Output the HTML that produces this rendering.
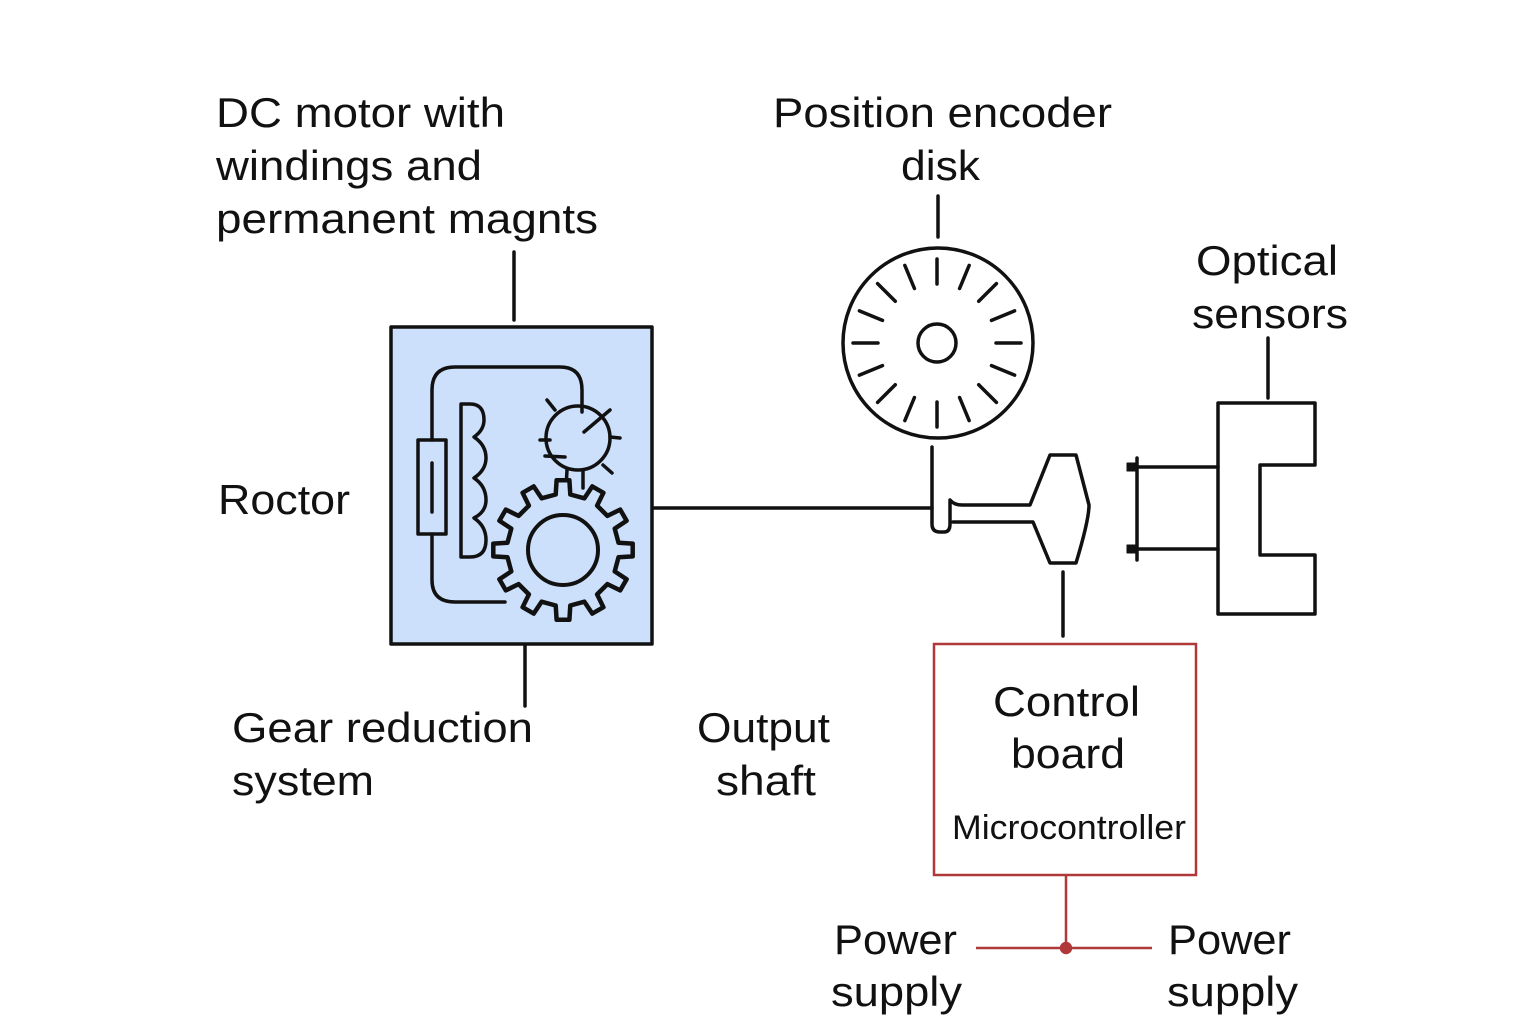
<!DOCTYPE html>
<html><head><meta charset="utf-8"><style>
html,body{margin:0;padding:0;background:#fff;}
svg{display:block}
text{font-family:"Liberation Sans",sans-serif;fill:#111;}
</style></head><body>
<svg id="s" width="1536" height="1024" viewBox="0 0 1536 1024" xmlns="http://www.w3.org/2000/svg">
<g font-size="42" lengthAdjust="spacingAndGlyphs">
<text x="216" y="127" textLength="289" lengthAdjust="spacingAndGlyphs">DC motor with</text>
<text x="216" y="180" textLength="266" lengthAdjust="spacingAndGlyphs">windings and</text>
<text x="216" y="233" textLength="382" lengthAdjust="spacingAndGlyphs">permanent magnts</text>
<text x="773" y="127" textLength="339" lengthAdjust="spacingAndGlyphs">Position encoder</text>
<text x="901" y="180" textLength="79" lengthAdjust="spacingAndGlyphs">disk</text>
<text x="1196" y="275" textLength="142" lengthAdjust="spacingAndGlyphs">Optical</text>
<text x="1192" y="328" textLength="156" lengthAdjust="spacingAndGlyphs">sensors</text>
<text x="218" y="514" textLength="132" lengthAdjust="spacingAndGlyphs">Roctor</text>
<text x="232" y="742" textLength="301" lengthAdjust="spacingAndGlyphs">Gear reduction</text>
<text x="232" y="795" textLength="142" lengthAdjust="spacingAndGlyphs">system</text>
<text x="697" y="742" textLength="133" lengthAdjust="spacingAndGlyphs">Output</text>
<text x="716" y="795" textLength="100" lengthAdjust="spacingAndGlyphs">shaft</text>
<text x="993" y="716" textLength="147" lengthAdjust="spacingAndGlyphs">Control</text>
<text x="1011" y="768" textLength="114" lengthAdjust="spacingAndGlyphs">board</text>
<text x="834" y="954" textLength="123" lengthAdjust="spacingAndGlyphs">Power</text>
<text x="831" y="1006" textLength="131" lengthAdjust="spacingAndGlyphs">supply</text>
<text x="1168" y="954" textLength="123" lengthAdjust="spacingAndGlyphs">Power</text>
<text x="1167" y="1006" textLength="131" lengthAdjust="spacingAndGlyphs">supply</text>
</g>
<text x="952" y="839" font-size="34" textLength="234" lengthAdjust="spacingAndGlyphs">Microcontroller</text>
<g fill="none" stroke="#111" stroke-width="3.5" stroke-linecap="round" stroke-linejoin="round">
<line x1="514" y1="252" x2="514" y2="320"/>
<line x1="938" y1="196" x2="938" y2="237"/>
<line x1="1268" y1="338" x2="1268" y2="398"/>
<line x1="525" y1="646" x2="525" y2="706"/>
<rect x="391" y="327" width="261" height="317" fill="#cde0fb" stroke-width="3.5"/>
<path d="M432,440 V390 Q432,367 455,367 H560 Q582,367 582,390 V412"/>
<path d="M432,534 V580 Q432,602 455,602 H505"/>
<rect x="418" y="440" width="28" height="94"/>
<line x1="432" y1="463" x2="432" y2="512"/>
<path d="M461,404 H470 Q484,404 484,420 Q484,430 474,437 Q486,445 486,458 Q486,470 474,478 Q486,486 486,500 Q486,512 474,518 Q486,526 486,540 Q486,557 470,557 H461 Z"/>
<circle cx="578" cy="438" r="32"/>
<path d="M584,432 L610,410 M547,400 L555,410 M540,440 L550,440 M545,456 L565,457 M603,465 L612,473 M610,437 L620,438 M567,470 L566,488 M583,470 L583,488"/>
<path id="gear" fill="#cde0fb" stroke-width="4.5"/>
<circle cx="563" cy="550" r="35" stroke-width="4"/>
<line x1="653" y1="508" x2="932" y2="508"/>
<circle cx="938" cy="343" r="95"/>
<circle cx="937" cy="343" r="19"/>
<g id="ticks"></g>
<path d="M932,447 V524 Q932,532 940,532 H944 Q950,532 950,524 V500 Q954,505 962,505 H1030 L1050,455 H1076 L1089,505 Q1089,520 1076,563 H1050 L1033,522 H953"/>
<line x1="1063" y1="572" x2="1063" y2="636"/>
<path d="M1218,403 H1315 V465 H1260 V555 H1315 V614 H1218 Z"/>
<line x1="1133" y1="467" x2="1218" y2="467"/>
<line x1="1133" y1="549" x2="1218" y2="549"/>
<line x1="1137" y1="458" x2="1137" y2="560"/>
<rect x="1127" y="463" width="9" height="8" fill="#111" stroke-width="1"/>
<rect x="1127" y="545" width="9" height="8" fill="#111" stroke-width="1"/>
</g>
<g stroke="#b03838" stroke-width="2.5" fill="none">
<rect x="934" y="644" width="262" height="231"/>
<line x1="1066" y1="875" x2="1066" y2="948"/>
<line x1="976" y1="948" x2="1152" y2="948"/>
<circle cx="1066" cy="948" r="5" fill="#b03838"/>
</g>
</svg>
<script>
(function(){
var t=document.getElementById('ticks'),h='';
for(var i=0;i<16;i++){var a=i*Math.PI/8,c=Math.cos(a),s=Math.sin(a);
h+='<line x1="'+(937+59*c)+'" y1="'+(343+59*s)+'" x2="'+(937+84*c)+'" y2="'+(343+84*s)+'"/>';}
t.innerHTML=h;
var cx=563,cy=550,R=70,r=56,n=12,d='';
for(var i=0;i<n;i++){var b=i*2*Math.PI/n,w=Math.PI/n;
var pts=[[b-w*0.5,r],[b-w*0.35,R],[b+w*0.35,R],[b+w*0.5,r],[b+w*1.5,r]];
pts.forEach(function(p,j){var x=cx+p[1]*Math.cos(p[0]),y=cy+p[1]*Math.sin(p[0]);d+=(i==0&&j==0?'M':'L')+x.toFixed(1)+','+y.toFixed(1);});}
document.getElementById('gear').setAttribute('d',d+'Z');
})();
</script>
</body></html>
